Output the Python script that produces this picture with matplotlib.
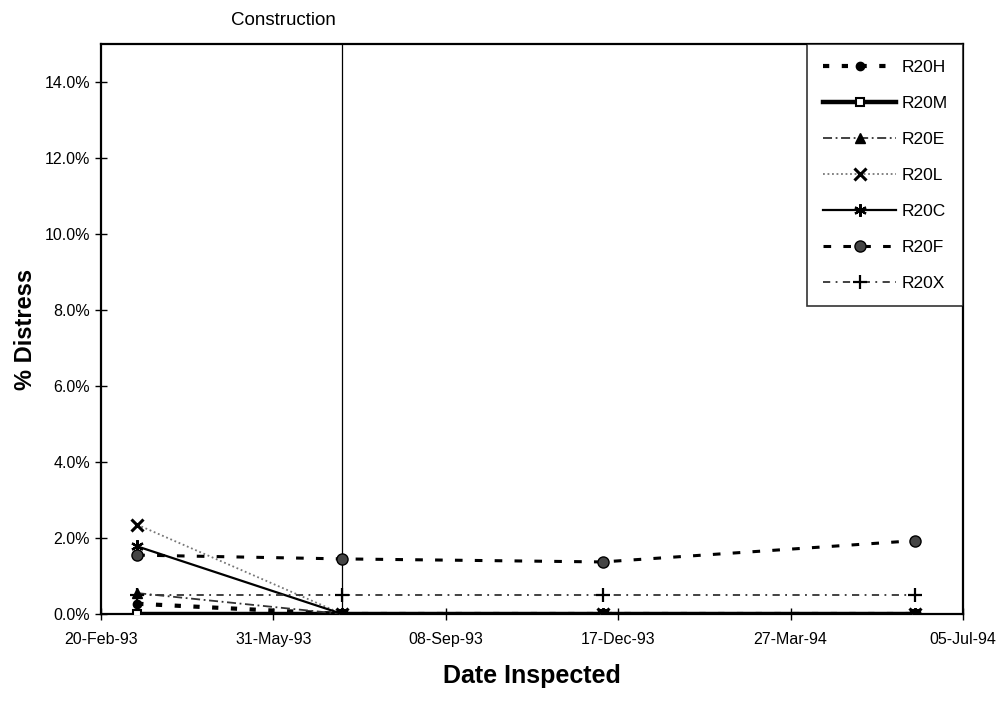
import matplotlib
matplotlib.use("Agg")
import matplotlib.pyplot as plt
import matplotlib.dates as mdates
from matplotlib.ticker import FuncFormatter
import numpy as np
from datetime import datetime, timedelta

plt.rcParams['font.family'] = ['Liberation Sans', 'DejaVu Sans']

# ---- data ----
dates = ["1993-03-13", "1993-07-10", "1993-12-08", "1994-06-07"]
series_names = ["R20H", "R20M", "R20E", "R20L", "R20C", "R20F", "R20X"]
r20h = [0.27, 0.0, 0.0, 0.0]
r20m = [0.0, 0.0, 0.0, 0.0]
r20e = [0.55, 0.0, 0.0, 0.0]
r20l = [2.35, 0.0, 0.0, 0.0]
r20c = [1.78, 0.0, 0.0, 0.0]
r20f = [1.55, 1.45, 1.37, 1.93]
r20x = [0.50, 0.50, 0.50, 0.50]
construction_date = "1993-07-10"
x_start = "1993-02-20"
x_end = "1994-07-05"
y_ticks = [0, 2, 4, 6, 8, 10, 12, 14]

# ---- figure ----
fig = plt.figure(figsize=(10.01, 7.03), dpi=100)
ax = fig.add_axes([0.1009, 0.1266, 0.9620 - 0.1009, 0.9374 - 0.1266])

xd = [datetime.strptime(d, "%Y-%m-%d") for d in dates]

styles = {
    "R20H": dict(color="black", lw=3.0, ls=(0, (1.5, 3.0)), marker="o", ms=6, mfc="black", mec="black"),
    "R20M": dict(color="black", lw=3.2, ls="-", marker="s", ms=6, mfc="white", mec="black", mew=1.5),
    "R20E": dict(color="#333333", lw=1.3, ls=(0, (5, 2, 1, 2)), marker="^", ms=7, mfc="black", mec="black"),
    "R20L": dict(color="#777777", lw=1.3, ls=(0, (1, 1.5)), marker="x", ms=8, mfc="black", mec="black", mew=2.2),
    "R20C": dict(color="black", lw=1.6, ls="-", marker=(6, 2, 0), ms=9, mfc="black", mec="black", mew=1.6),
    "R20F": dict(color="black", lw=2.2, ls=(0, (2.5, 4)), marker="o", ms=8, mfc="#444444", mec="black"),
    "R20X": dict(color="#333333", lw=1.3, ls=(0, (4, 3, 1, 3)), marker="+", ms=10, mfc="black", mec="black", mew=1.6),
}
vals = {"R20H": r20h, "R20M": r20m, "R20E": r20e, "R20L": r20l,
        "R20C": r20c, "R20F": r20f, "R20X": r20x}

for name in series_names:
    ax.plot(xd, vals[name], label=name, **styles[name], zorder=3)

cd = datetime.strptime(construction_date, "%Y-%m-%d")
ax.axvline(cd, color="black", lw=0.9, zorder=2)
ax.text(cd - timedelta(days=4), 15.4, "Construction", ha="right", va="bottom", fontsize=13.5)

x0 = datetime.strptime(x_start, "%Y-%m-%d")
x1 = datetime.strptime(x_end, "%Y-%m-%d")
ax.set_xlim(x0, x1)
ax.set_ylim(0, 15)
ax.set_xticks([x0 + timedelta(days=100 * k) for k in range(6)])
ax.xaxis.set_major_formatter(mdates.DateFormatter("%d-%b-%y"))
ax.set_yticks(y_ticks)
ax.yaxis.set_major_formatter(FuncFormatter(lambda v, p: f"{v:.1f}%"))

ax.tick_params(axis="both", direction="inout", length=8, width=1, labelsize=11.5, pad=4)
ax.tick_params(axis="x", pad=9)
for s in ax.spines.values():
    s.set_linewidth(1.6)
    s.set_color("black")

ax.set_ylabel("% Distress", fontsize=17, fontweight="bold", labelpad=5)
ax.set_xlabel("Date Inspected", fontsize=18, fontweight="bold", labelpad=12)

leg = ax.legend(loc="upper right", frameon=True, fancybox=False, edgecolor="black",
                fontsize=12.5, handlelength=4.2, labelspacing=1.2, borderpad=0.9,
                handletextpad=0.3, borderaxespad=0.0)
leg.get_frame().set_linewidth(1.2)

fig.savefig("out.png", dpi=100)
